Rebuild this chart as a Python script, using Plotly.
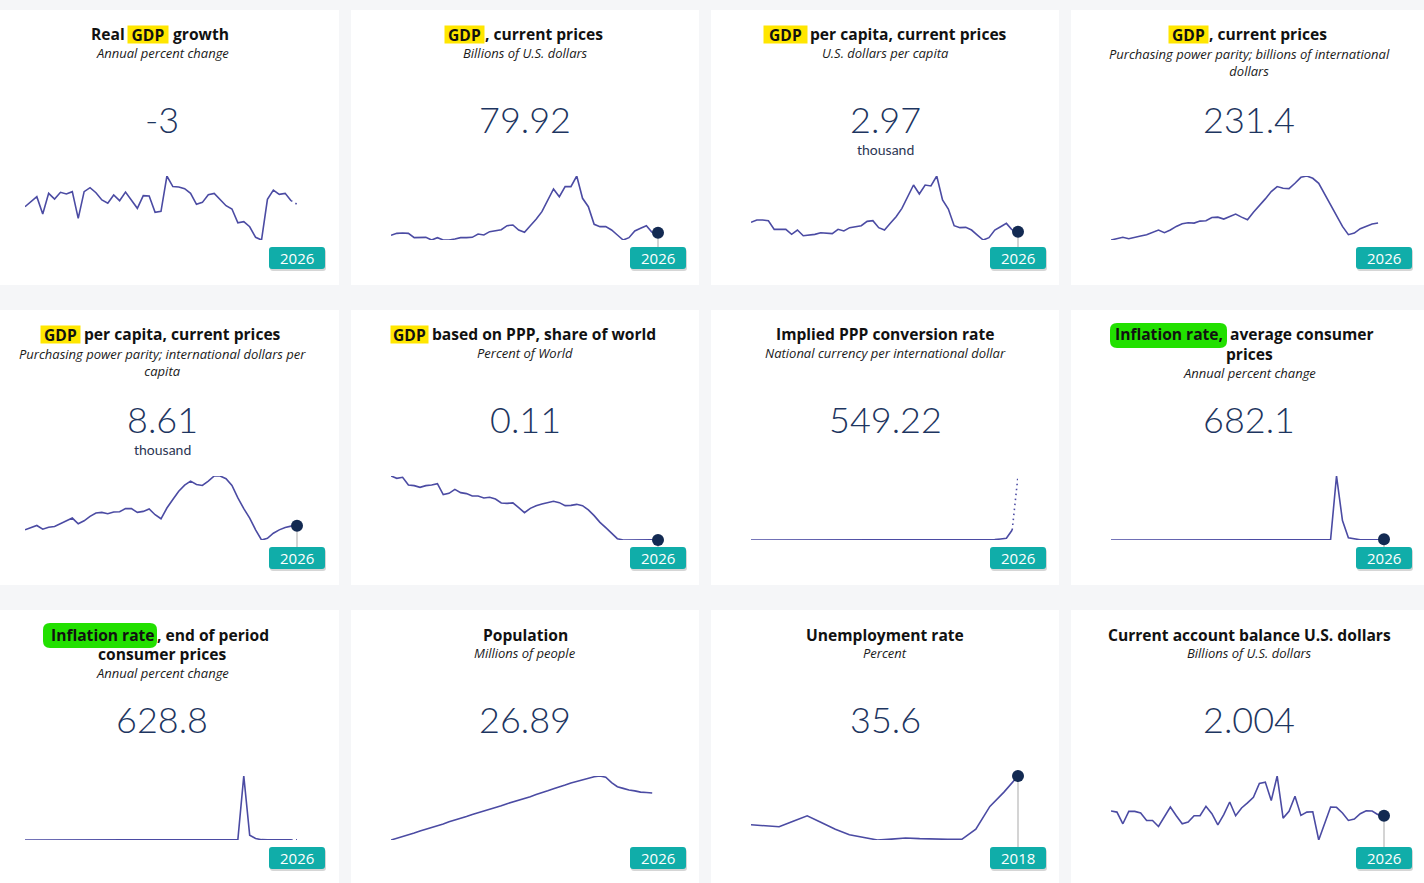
import plotly.graph_objects as go

W, H = 1424, 883
PAGE_BG = "#f5f6f8"
CARD_BG = "#ffffff"
LINE_C = "#4b4ba3"
DOT_C = "#132a52"
TEAL = "#10ada9"
NAVY = "#1d3560"
YELLOW = "#ffe600"
GREEN = "#22e000"

# ---------------- data ----------------
YEARS = list(range(1980, 2027))
UNEMP_YEARS = list(range(1999, 2019))

real_gdp_growth = [-4.9, -1.1, 2.7, -10.4, 5.2, 0.9, 6.0, 4.7, 6.5, -13.7,
                   6.5, 9.5, 5.7, 0.2, -2.3, 4.0, -0.3, 6.2, 0.2, -6.1,
                   3.5, 3.2, -9.1, -8.4, 18.3, 10.3, 10.0, 8.7, 5.2, -3.1,
                   -1.6, 4.2, 5.2, 0.7, -4.1, -6.6, -17.0, -16.2, -20.0, -28.0,
                   -30.0, 0.7, 7.7, 4.5, 5.2, -0.3, -3.0]

gdp_current = [65.7, 76.3, 78.1, 76.3, 53.3, 55.1, 55.1, 40.9, 53.3, 40.9,
               40.9, 46.2, 53.3, 53.3, 55.1, 72.8, 67.5, 85.2, 90.5, 95.8,
               117.1, 120.6, 94.0, 81.6, 117.1, 150.7, 191.5, 253.4, 312.1, 271.0,
               324.3, 324.3, 381.0, 262.5, 218.0, 124.1, 111.8, 111.8, 94.0, 67.5,
               40.9, 53.3, 88.7, 102.9, 117.1, 80.5, 79.92]

gdp_per_capita = [4.62, 5.03, 5.03, 4.91, 3.38, 3.38, 3.38, 2.50, 3.26, 2.26,
                  2.32, 2.50, 2.79, 2.67, 2.62, 3.38, 3.09, 3.68, 3.91, 4.03,
                  4.79, 4.91, 3.68, 3.26, 4.44, 5.62, 7.09, 9.04, 11.21, 9.62,
                  11.21, 11.04, 12.80, 8.56, 6.97, 4.03, 3.68, 3.73, 3.26, 2.38,
                  1.50, 1.91, 3.26, 3.85, 4.44, 3.26, 2.97]

gdp_ppp = [112.8, 122.1, 131.4, 122.1, 133.7, 140.6, 149.9, 166.1, 182.3, 163.8,
           182.3, 207.8, 226.4, 233.3, 231.0, 244.9, 247.2, 270.4, 272.7, 258.8,
           277.3, 293.6, 272.7, 254.2, 307.5, 351.5, 400.1, 451.1, 485.9, 474.3,
           472.0, 509.1, 550.8, 560.0, 543.8, 509.1, 432.6, 363.1, 288.9, 207.8,
           149.9, 161.5, 191.6, 207.8, 224.1, 231.0, None]

gdp_ppp_per_capita = [7.81, 8.28, 8.68, 7.94, 8.34, 8.48, 9.01, 9.48, 10.15, 9.01,
                      9.61, 10.48, 11.15, 11.28, 11.02, 11.35, 11.42, 12.02, 12.02, 11.28,
                      11.48, 11.95, 10.81, 10.01, 12.15, 13.82, 15.49, 16.69, 17.49, 16.83,
                      16.63, 17.49, 18.50, 18.50, 17.96, 16.63, 14.15, 12.02, 10.15, 7.81,
                      5.80, 6.14, 7.14, 7.81, 8.28, 8.55, 8.61]

ppp_share_world = [0.749, 0.726, 0.736, 0.659, 0.653, 0.636, 0.653, 0.659, 0.673, 0.563,
                   0.576, 0.616, 0.583, 0.573, 0.549, 0.549, 0.529, 0.536, 0.519, 0.480,
                   0.476, 0.480, 0.433, 0.383, 0.426, 0.453, 0.470, 0.486, 0.496, 0.483,
                   0.453, 0.456, 0.466, 0.453, 0.410, 0.353, 0.286, 0.233, 0.176, 0.123,
                   0.110, 0.110, 0.110, 0.110, 0.113, 0.113, 0.110]

implied_ppp_rate = [0.0, 0.0, 0.0, 0.0, 0.0, 0.0, 0.0, 0.0, 0.0, 0.0,
                    0.0, 0.0, 0.0, 0.0, 0.0, 0.0, 0.0, 0.0, 0.0, 0.0,
                    0.0, 0.0, 0.0, 0.0, 0.0, 0.0, 0.0, 0.0, 0.0, 0.0,
                    0.0, 0.0, 0.0, 0.0, 0.0, 0.0, 0.0, 0.0, 0.0, 0.0,
                    0.0, 0.0, 2.9, 8.6, 14.3, 85.8, 549.22]

inflation_avg = [21.5, 16.2, 9.6, 6.2, 12.2, 11.4, 11.5, 28.1, 29.5, 84.5,
                 40.7, 34.2, 31.4, 38.1, 60.8, 59.9, 99.9, 50.0, 35.8, 23.6,
                 16.2, 12.5, 22.4, 31.1, 21.7, 16.0, 13.7, 18.7, 31.4, 27.1,
                 28.2, 26.1, 21.1, 43.5, 57.3, 111.8, 254.9, 438.1, 65374.1, 19906.0,
                 2355.1, 1588.5, 186.5, 337.5, 49.0, 270.0, 682.1]

inflation_eop = [10.8, 7.9, 7.0, 18.3, 5.7, 12.7, 40.3, 35.5, 81.0, 36.5,
                 31.0, 31.9, 45.9, 70.8, 56.6, 103.2, 37.6, 29.9, 20.0, 13.4,
                 12.3, 31.2, 27.1, 19.2, 14.4, 17.0, 22.5, 31.9, 26.9, 27.4,
                 29.0, 19.5, 52.7, 68.5, 180.9, 302.6, 862.6, 130060.2, 9585.5, 2959.8,
                 686.4, 234.1, 189.8, 48.0, 120.0, 200.0, 628.8]

population = [15.1, 15.5, 15.9, 16.4, 16.8, 17.3, 17.7, 18.1, 18.6, 19.0,
              19.5, 19.9, 20.4, 20.8, 21.3, 21.7, 22.1, 22.5, 23.0, 23.4,
              23.9, 24.3, 24.8, 25.2, 25.6, 26.1, 26.5, 27.0, 27.5, 27.9,
              28.4, 28.9, 29.3, 29.7, 30.0, 30.4, 30.6, 30.3, 29.0, 28.0,
              27.6, 27.2, 27.0, 26.7, 26.6, 26.5, None]

unemployment = [13.8, 13.3, 12.9, 15.4, 17.8, 14.8, 11.8, 9.3, 8.2, 7.0,
                7.4, 7.9, 7.6, 7.3, 7.3, 7.3, 11.8, 22.0, 28.4, 35.6]

current_account = [6.1, 5.2, -5.1, 5.8, 5.8, 4.4, -2.2, -2.2, -7.5, 1.4,
                   9.7, 2.0, -5.1, -3.6, 2.0, 2.0, 10.3, 3.8, -6.0, 2.9,
                   14.1, 2.0, 8.8, 13.3, 18.3, 30.5, 31.6, 15.3, 37.0, -0.1,
                   5.8, 19.2, 2.3, 5.2, 5.5, -19.4, -3.9, 9.7, 9.4, 4.4,
                   -2.2, -1.0, 3.8, 6.4, 6.1, 2.9, 2.0]

headline_values = ["-3", "79.92", "2.97", "231.4", "8.61", "0.11",
                   "549.22", "682.1", "628.8", "26.89", "35.6", "2.004"]
headline_units = [None, None, "thousand", None, "thousand", None,
                  None, None, None, None, None, None]
badge_years = ["2026", "2026", "2026", "2026", "2026", "2026",
               "2026", "2026", "2026", "2026", "2018", "2026"]

series_list = [real_gdp_growth, gdp_current, gdp_per_capita, gdp_ppp,
               gdp_ppp_per_capita, ppp_share_world, implied_ppp_rate, inflation_avg,
               inflation_eop, population, unemployment, current_account]
years_list = [YEARS] * 10 + [UNEMP_YEARS, YEARS]
show_marker = [False, True, True, False, True, True, False, True, False, False, True, True]
dotted_last = [True] * 10 + [False, True]

# title specs: plain string, ("y", left, mid, right, box_x0, box_x1, right_x)
# or ("g", mid, right, box_x0, box_x1, box_y0, box_y1, mid_right_x, right_left_x)
title_specs = [
    [("y", "Real", "GDP", "growth", 128, 168, 172)],
    [("y", "", "GDP", ", current prices", 445, 484, 484)],
    [("y", "", "GDP", "per capita, current prices", 764, 807, 809)],
    [("y", "", "GDP", ", current prices", 1169, 1208, 1208)],
    [("y", "", "GDP", "per capita, current prices", 41, 80, 83)],
    [("y", "", "GDP", "based on PPP, share of world", 391, 428, 431)],
    ["Implied PPP conversion rate"],
    [("g", "Inflation rate,", "average consumer", 1110, 1227, 323, 348, 1224, 1229), "prices"],
    [("g", "Inflation rate", ", end of period", 43, 157, 623, 648, 156, 156), "consumer prices"],
    ["Population"],
    ["Unemployment rate"],
    ["Current account balance U.S. dollars"],
]
subtitle_specs = [
    ["Annual percent change"],
    ["Billions of U.S. dollars"],
    ["U.S. dollars per capita"],
    ["Purchasing power parity; billions of international", "dollars"],
    ["Purchasing power parity; international dollars per", "capita"],
    ["Percent of World"],
    ["National currency per international dollar"],
    ["Annual percent change"],
    ["Annual percent change"],
    ["Millions of people"],
    ["Percent"],
    ["Billions of U.S. dollars"],
]

# ---------------- layout geometry (pixels) ----------------
COL_CARD = [(0, 339), (351, 699), (711, 1059), (1071, 1424)]
COL_CENTER = [162, 525, 885, 1249]
COL_SPARK = [(25, 297), (391, 658), (751, 1018), (1111, 1384)]
ROW_TOP = [10, 310, 610]

TITLE_FONT = dict(family="Open Sans", size=15.6, color="#111111", weight=700)
SUB_FONT = dict(family="Open Sans", size=13, color="#1a1a1a", style="italic")


def px(x):
    return x / W


def py(y):
    return 1 - y / H


def rr_path_paper(x0, y0, x1, y1, r):
    pts = [f"M {px(x0 + r)},{py(y0)}",
           f"L {px(x1 - r)},{py(y0)}",
           f"Q {px(x1)},{py(y0)} {px(x1)},{py(y0 + r)}",
           f"L {px(x1)},{py(y1 - r)}",
           f"Q {px(x1)},{py(y1)} {px(x1 - r)},{py(y1)}",
           f"L {px(x0 + r)},{py(y1)}",
           f"Q {px(x0)},{py(y1)} {px(x0)},{py(y1 - r)}",
           f"L {px(x0)},{py(y0 + r)}",
           f"Q {px(x0)},{py(y0)} {px(x0 + r)},{py(y0)}"]
    return " ".join(pts) + " Z"


def rr_path_pixel(hw, hh, r, dx=0, dy=0):
    x0, x1, y0, y1 = -hw + dx, hw + dx, -hh + dy, hh + dy
    return (f"M {x0 + r},{y0} L {x1 - r},{y0} Q {x1},{y0} {x1},{y0 + r} "
            f"L {x1},{y1 - r} Q {x1},{y1} {x1 - r},{y1} L {x0 + r},{y1} "
            f"Q {x0},{y1} {x0},{y1 - r} L {x0},{y0 + r} Q {x0},{y0} {x0 + r},{y0} Z")


fig = go.Figure()
shapes = []
annotations = []
layout_axes = {}


def ann(x, y, text, font, xanchor="center", **kw):
    d = dict(x=px(x), y=py(y), xref="paper", yref="paper", text=text, showarrow=False,
             font=font, xanchor=xanchor, yanchor="middle", borderpad=0)
    d.update(kw)
    annotations.append(d)


for k in range(12):
    r, c = divmod(k, 4)
    top = ROW_TOP[r]
    cx = COL_CENTER[c]
    cx0, cx1 = COL_CARD[c]
    # card
    shapes.append(dict(type="rect", xref="paper", yref="paper", x0=px(cx0), x1=px(cx1),
                       y0=py(top), y1=py(min(top + 275, H + 5)), fillcolor=CARD_BG,
                       line=dict(width=0), layer="below"))

    # titles
    tl = title_specs[k]
    for i, spec in enumerate(tl):
        ty = top + 24.5 + 19.5 * i
        if isinstance(spec, str):
            ann(cx, ty, spec, TITLE_FONT)
        elif spec[0] == "y":
            _, left, mid, right, bx0, bx1, rx = spec
            ann((bx0 + bx1) / 2, ty, mid, TITLE_FONT, bgcolor=YELLOW,
                width=bx1 - bx0, height=17)
            if left:
                ann(bx0 - 2, ty, left, TITLE_FONT, xanchor="right")
            if right:
                ann(rx, ty, right, TITLE_FONT, xanchor="left")
        else:
            _, mid, right, bx0, bx1, by0, by1, mrx, rlx = spec
            shapes.append(dict(type="path", xref="paper", yref="paper",
                               path=rr_path_paper(bx0, by0, bx1, by1, 7),
                               fillcolor=GREEN, line=dict(width=0), layer="below"))
            ann(mrx, ty, mid, TITLE_FONT, xanchor="right")
            ann(rlx, ty, right, TITLE_FONT, xanchor="left")
    sub_lines = subtitle_specs[k]
    if len(tl) > 1:
        sub_y = top + 63
    elif len(sub_lines) > 1:
        sub_y = top + 52
    else:
        sub_y = top + 43
    ann(cx, sub_y, "<br>".join(sub_lines), SUB_FONT)

    # headline
    ann(cx, top + 109, headline_values[k], dict(family="Lato", size=36, color=NAVY, weight=300))
    if headline_units[k]:
        ann(cx, top + 139, headline_units[k], dict(family="Lato", size=14, color="#2b3553"))

    # sparkline axes
    ax_id = "" if k == 0 else str(k + 1)
    xname, yname = "x" + ax_id, "y" + ax_id
    sx0, sx1 = COL_SPARK[c]
    vals = series_list[k]
    yrs = years_list[k]
    valid = [v for v in vals if v is not None]
    vmin, vmax = min(valid), max(valid)
    span = vmax - vmin
    dom_lo, dom_hi = py(top + 230), py(top + 166)
    layout_axes["xaxis" + ax_id] = dict(domain=[px(sx0), px(sx1)], range=[yrs[0], yrs[-1]],
                                        visible=False, fixedrange=True, anchor=yname)
    layout_axes["yaxis" + ax_id] = dict(domain=[dom_lo, dom_hi], range=[vmin, vmax],
                                        visible=False, fixedrange=True, anchor=xname)

    n_solid = len(vals) - 1 if dotted_last[k] else len(vals)
    fig.add_trace(go.Scatter(x=yrs[:n_solid], y=vals[:n_solid], mode="lines",
                             line=dict(color=LINE_C, width=1.6), xaxis=xname, yaxis=yname,
                             cliponaxis=False, hoverinfo="skip", showlegend=False,
                             connectgaps=False))
    if dotted_last[k] and vals[-1] is not None and vals[-2] is not None:
        fig.add_trace(go.Scatter(x=yrs[-2:], y=vals[-2:], mode="lines",
                                 line=dict(color=LINE_C, width=1.6, dash="1.5px,3.5px"),
                                 xaxis=xname, yaxis=yname, cliponaxis=False,
                                 hoverinfo="skip", showlegend=False))

    badge_cy = top + 248
    last_x = px(sx1)  # x axis range ends at the last year -> right edge of the domain
    if show_marker[k]:
        marker_y = dom_lo + (vals[-1] - vmin) / span * (dom_hi - dom_lo)
        shapes.append(dict(type="line", xref="paper", yref="paper", x0=last_x, x1=last_x,
                           y0=marker_y, y1=py(badge_cy),
                           line=dict(color="#a9a9a9", width=1), layer="below"))
        fig.add_trace(go.Scatter(x=[yrs[-1]], y=[vals[-1]], mode="markers",
                                 marker=dict(color=DOT_C, size=12, line=dict(width=0)),
                                 xaxis=xname, yaxis=yname, cliponaxis=False,
                                 hoverinfo="skip", showlegend=False))

    # badge (shadow + body)
    shapes.append(dict(type="path", xref="paper", yref="paper", xsizemode="pixel",
                       ysizemode="pixel", xanchor=last_x, yanchor=py(badge_cy),
                       path=rr_path_pixel(28, 11, 3, dx=1, dy=-2),
                       fillcolor="rgba(0,0,0,0.16)", line=dict(width=0), layer="above"))
    shapes.append(dict(type="path", xref="paper", yref="paper", xsizemode="pixel",
                       ysizemode="pixel", xanchor=last_x, yanchor=py(badge_cy),
                       path=rr_path_pixel(28, 11, 3),
                       fillcolor=TEAL, line=dict(width=0), layer="above"))
    annotations.append(dict(x=last_x, y=py(badge_cy), xref="paper", yref="paper",
                            text=badge_years[k], showarrow=False, xanchor="center",
                            yanchor="middle",
                            font=dict(family="Open Sans", size=15, color="#ffffff")))

fig.update_layout(
    width=W, height=H, margin=dict(l=0, r=0, t=0, b=0),
    paper_bgcolor=PAGE_BG, plot_bgcolor="rgba(0,0,0,0)",
    shapes=shapes, annotations=annotations, showlegend=False,
    **layout_axes,
)

fig.write_html("out.html", config={"displayModeBar": False, "staticPlot": True},
               post_script="document.body.style.margin='0';document.body.style.overflow='hidden';")
